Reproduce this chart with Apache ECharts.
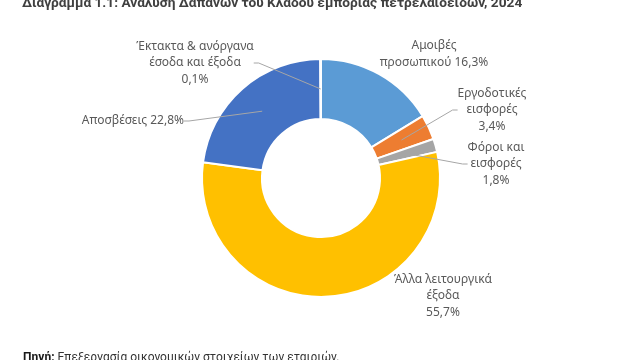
<!DOCTYPE html>
<html>
<head>
<meta charset="utf-8">
<script src="https://cdn.jsdelivr.net/npm/echarts@6/dist/echarts.min.js"></script>
<style>html,body{margin:0;padding:0;background:#fff}#c{width:640px;height:360px}</style>
</head>
<body>
<div id="c"></div>
<script>
const categories = ['Αμοιβές\nπροσωπικού', 'Εργοδοτικές\nεισφορές', 'Φόροι και\nεισφορές', 'Άλλα λειτουργικά\nέξοδα', 'Αποσβέσεις', 'Έκτακτα & ανόργανα\nέσοδα και έξοδα'];
const values = [16.3, 3.4, 1.8, 55.7, 22.8, 0.1];
const valueLabels = ['16,3%', '3,4%', '1,8%', '55,7%', '22,8%', '0,1%'];
const colors = ['#5B9BD5', '#ED7D31', '#A5A5A5', '#FFC000', '#4472C4', '#264478'];
const titleText = 'Διάγραμμα 1.1: Ανάλυση Δαπανών του Κλάδου εμπορίας πετρελαιοειδών, 2024';
const sourceLabel = 'Πηγή:';
const sourceText = 'Επεξεργασία οικονομικών στοιχείων των εταιριών.';

// label layout (positions only)
const center = [321, 178];
const radius = [59, 119];
const labelPos = [
  {x: 434, y: 54, align: 'center', sep: ' ', line: false},
  {x: 492, y: 110, align: 'center', sep: '\n', line: true},
  {x: 496, y: 164, align: 'center', sep: '\n', line: true},
  {x: 443, y: 296, align: 'center', sep: '\n', line: false},
  {x: 184, y: 121, align: 'right', sep: ' ', line: true},
  {x: 195, y: 63, align: 'center', sep: '\n', line: true}
];

const baseData = categories.map((c, i) => ({
  name: c,
  value: values[i],
  itemStyle: {color: colors[i]}
}));
const labelData = categories.map((c, i) => ({
  name: c,
  value: values[i],
  label: {formatter: c + labelPos[i].sep + valueLabels[i], align: labelPos[i].align},
  labelLine: {show: labelPos[i].line}
}));

const chart = echarts.init(document.getElementById('c'), null, {renderer: 'canvas'});
chart.setOption({
  animation: false,
  title: [
    {text: titleText, left: 22, top: -4, padding: 0,
     textStyle: {fontFamily: 'Roboto', fontSize: 13.7, fontWeight: 'bold', color: '#404040', lineHeight: 15}},
    {text: '{b|' + sourceLabel + '} ' + sourceText, left: 23, top: 351, padding: 0,
     textStyle: {fontFamily: 'Roboto', fontSize: 12, fontWeight: 'normal', color: '#333', lineHeight: 14,
       rich: {b: {fontFamily: 'Roboto', fontSize: 12, fontWeight: 'bold', color: '#1a1a1a', lineHeight: 14}}}}
  ],
  series: [{
    type: 'pie',
    z: 2,
    center: center,
    radius: radius,
    startAngle: 90,
    clockwise: true,
    silent: true,
    itemStyle: {borderColor: '#fff', borderWidth: 2},
    label: {show: false},
    labelLine: {show: false},
    data: baseData
  }, {
    type: 'pie',
    z: 5,
    center: center,
    radius: [radius[0] + 20, (radius[0] + radius[1]) / 2],
    startAngle: 90,
    clockwise: true,
    silent: true,
    avoidLabelOverlap: false,
    itemStyle: {color: 'rgba(0,0,0,0)', borderWidth: 0},
    label: {show: true, position: 'outside', fontFamily: 'Noto Sans', fontSize: 12, color: '#595959', lineHeight: 16.5},
    labelLine: {length: 5, length2: 5, smooth: false, lineStyle: {color: '#A6A6A6', width: 1}},
    labelLayout: function (p) {
      const lp = labelPos[p.dataIndex];
      return {x: lp.x, y: lp.y, align: lp.align, verticalAlign: 'middle'};
    },
    data: labelData
  }]
});
</script>
</body>
</html>
